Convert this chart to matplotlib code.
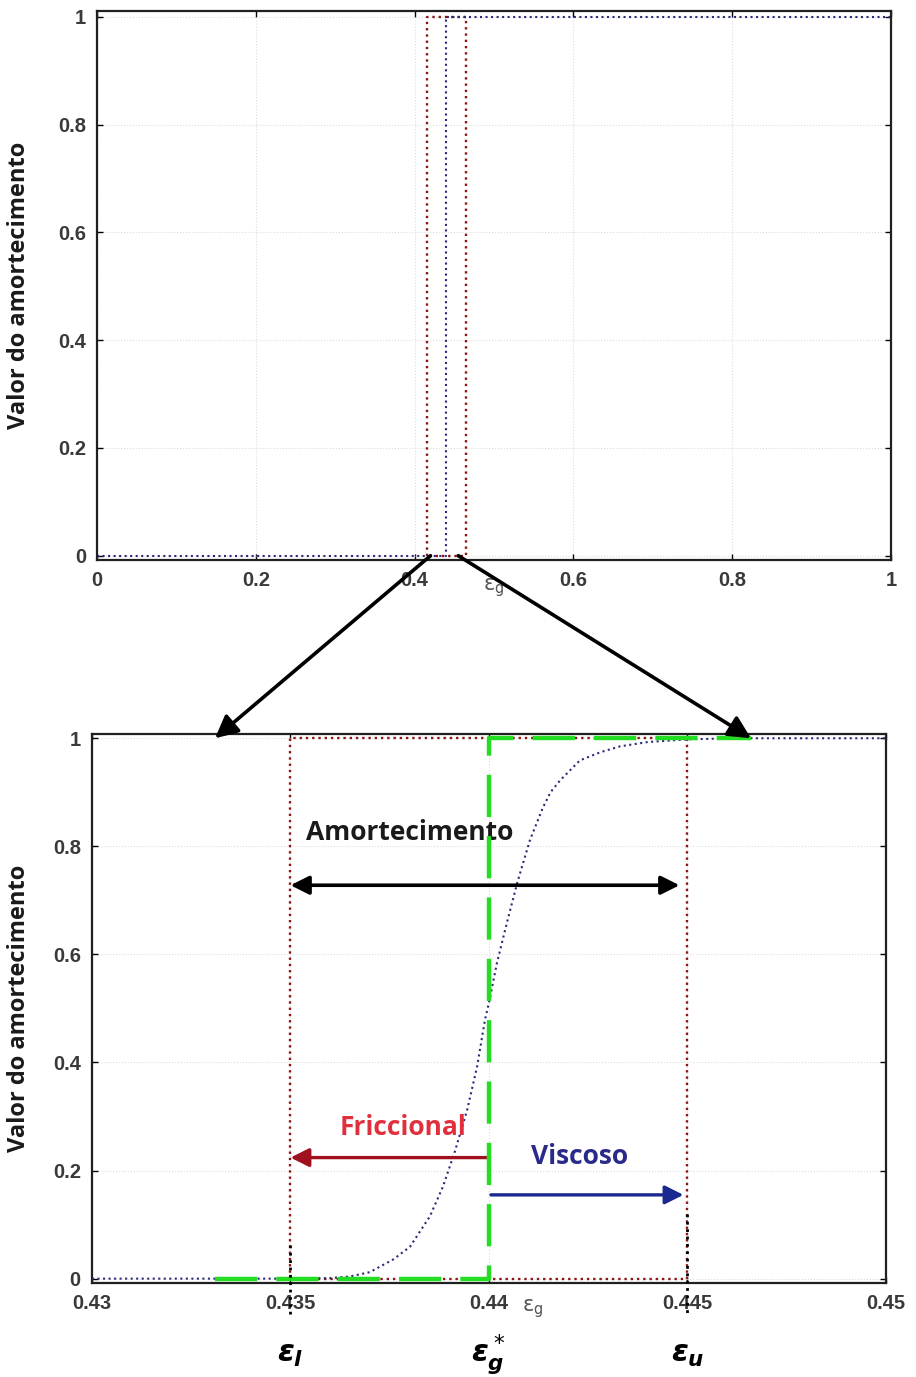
import matplotlib

matplotlib.use("Agg")
import matplotlib.pyplot as plt
from matplotlib.patches import ConnectionPatch

# ---- data -------------------------------------------------------------
# top panel (full range)
top_red_x = [0.415, 0.415, 0.465, 0.465, 0.415]
top_red_y = [0, 1, 1, 0, 0]
top_blue_x = [0.0, 0.44, 0.44, 1.0]
top_blue_y = [0, 0, 1, 1]
top_xticks = [0, 0.2, 0.4, 0.6, 0.8, 1]
top_xlabels = ["0", "0.2", "0.4", "0.6", "0.8", "1"]

# bottom panel (zoom around eps_g)
zoom_red_x = [0.435, 0.435, 0.445, 0.445, 0.435]
zoom_red_y = [0, 1, 1, 0, 0]
zoom_green_x = [0.4331, 0.44, 0.44, 0.4466]
zoom_green_y = [0, 0, 1, 1]
sig_x = [0.430, 0.435, 0.4360, 0.4365, 0.4370, 0.43725, 0.4376, 0.43801,
         0.43851, 0.43884, 0.43914, 0.43945, 0.4397, 0.4399, 0.44003, 0.4402,
         0.44045, 0.44071, 0.44103, 0.44136, 0.44155, 0.44179, 0.44229,
         0.4428, 0.4433, 0.4440, 0.4450, 0.4462, 0.450]
sig_y = [0.0, 0.0, 0.001, 0.004, 0.012, 0.022, 0.036, 0.059,
         0.115, 0.170, 0.235, 0.312, 0.392, 0.479, 0.521, 0.584,
         0.658, 0.732, 0.811, 0.872, 0.900, 0.922, 0.959,
         0.974, 0.985, 0.993, 0.998, 1.0, 1.0]
zoom_xticks = [0.43, 0.435, 0.44, 0.445, 0.45]
zoom_xlabels = ["0.43", "0.435", "0.44", "0.445", "0.45"]
eps_l, eps_g, eps_u = 0.435, 0.44, 0.445

yticks = [0, 0.2, 0.4, 0.6, 0.8, 1]
ylabels = ["0", "0.2", "0.4", "0.6", "0.8", "1"]

RED = "#8b1414"
BLUE = "#2a2a78"
TICKCOL = "#3a3a3a"

plt.rcParams["mathtext.fontset"] = "custom"
plt.rcParams["mathtext.it"] = "DejaVu Sans:italic:bold"
plt.rcParams["mathtext.rm"] = "DejaVu Sans"

fig = plt.figure(figsize=(9.16, 13.77), dpi=100)
ax1 = fig.add_axes([0.1059, 0.5933, 0.8668, 0.3987])
ax2 = fig.add_axes([0.1004, 0.0683, 0.8668, 0.3987])


def style_axes(ax, xticks, xlabels, label_x):
    ax.set_xticks(xticks)
    ax.set_xticklabels(xlabels)
    ax.set_yticks(yticks)
    ax.set_yticklabels(ylabels)
    ax.tick_params(direction="in", length=4, width=1, top=True, right=True,
                   labelsize=14.5, labelcolor=TICKCOL, pad=8)
    for lab in ax.get_xticklabels() + ax.get_yticklabels():
        lab.set_fontweight("bold")
        lab.set_family("Liberation Sans")
    ax.grid(True, linestyle=":", color="#dcdcdc", linewidth=0.8)
    for sp in ax.spines.values():
        sp.set_linewidth(1.6)
        sp.set_color("#202020")
    ax.set_ylabel("Valor do amortecimento", fontsize=17, fontweight="bold",
                  family="Open Sans", color="#1a1a1a")
    ax.yaxis.set_label_coords(label_x, 0.5)


# ---- top panel --------------------------------------------------------
ax1.plot(top_red_x, top_red_y, ":", color=RED, lw=1.7, clip_on=False)
ax1.plot(top_blue_x, top_blue_y, ":", color=BLUE, lw=1.5, clip_on=False)
ax1.set_xlim(0, 1)
ax1.set_ylim(-0.008, 1.011)
style_axes(ax1, top_xticks, top_xlabels, -0.083)
ax1.text(0.5, -0.06, r"$\mathrm{\varepsilon_g}$", transform=ax1.transData,
         fontsize=15, color="#555555", ha="center", va="center")

# ---- bottom panel -----------------------------------------------------
ax2.plot(zoom_red_x, zoom_red_y, ":", color=RED, lw=1.7, clip_on=False, zorder=2)
ax2.plot(sig_x, sig_y, ":", color=BLUE, lw=1.5, clip_on=False, zorder=3)
ax2.plot(zoom_green_x, zoom_green_y, color="#22dd22", lw=3.2,
         dashes=(9.5, 4.3), clip_on=False, zorder=4)
for xe, ytop in [(eps_l, 0.063), (eps_u, 0.12)]:
    ax2.plot([xe, xe], [ytop, -0.07], ":", color="black", lw=2,
             clip_on=False, zorder=5)
ax2.set_xlim(0.43, 0.45)
ax2.set_ylim(-0.008, 1.008)
style_axes(ax2, zoom_xticks, zoom_xlabels, -0.077)

ax2.annotate("", xy=(eps_l, 0.728), xytext=(0.4448, 0.728),
             arrowprops=dict(arrowstyle="<|-|>", color="black", lw=2.6,
                             mutation_scale=28, shrinkA=0, shrinkB=0))
ax2.text(0.4380, 0.826, "Amortecimento", fontsize=19, fontweight="bold",
         family="Open Sans", color="#1a1a1a", ha="center", va="center")

ax2.annotate("", xy=(eps_l, 0.224), xytext=(eps_g, 0.224),
             arrowprops=dict(arrowstyle="-|>", color="#a0101e", lw=2.4,
                             mutation_scale=28, shrinkA=0, shrinkB=0))
ax2.text(0.43783, 0.279, "Friccional", fontsize=19, fontweight="bold",
         family="Open Sans", color="#e0303e", ha="center", va="center")

ax2.annotate("", xy=(0.4449, 0.155), xytext=(0.44005, 0.155),
             arrowprops=dict(arrowstyle="-|>", color="#1a2890", lw=2.4,
                             mutation_scale=28, shrinkA=0, shrinkB=0))
ax2.text(0.44229, 0.2255, "Viscoso", fontsize=19, fontweight="bold",
         family="Open Sans", color="#2a2a8a", ha="center", va="center")

ax2.text(0.4411, -0.055, r"$\mathrm{\varepsilon_g}$", fontsize=15,
         color="#555555", ha="center", va="center")

for xe, lab in [(eps_l, r"$\varepsilon_l$"), (eps_g, r"$\varepsilon_g^*$"),
                (eps_u, r"$\varepsilon_u$")]:
    ax2.text(xe, -0.14, lab, fontsize=22, ha="center", va="center",
             color="black")

# ---- zoom arrows between the panels -----------------------------------
for x_from, x_to in [(0.42, 0.4331), (0.455, 0.4466)]:
    con = ConnectionPatch(xyA=(x_from, 0.0), coordsA=ax1.transData,
                          xyB=(x_to, 1.0), coordsB=ax2.transData,
                          arrowstyle="-|>", color="black", lw=2.6,
                          mutation_scale=34, shrinkA=0, shrinkB=0, zorder=10)
    fig.add_artist(con)

fig.savefig("out.png", dpi=100)
